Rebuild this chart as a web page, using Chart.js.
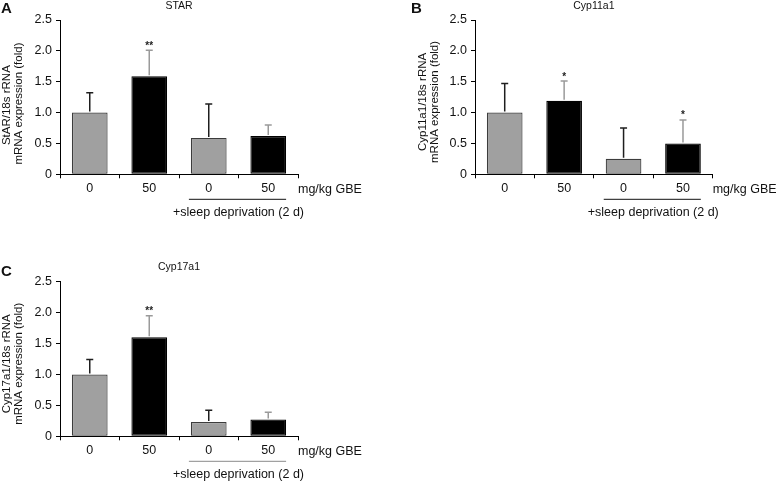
<!DOCTYPE html>
<html>
<head>
<meta charset="utf-8">
<script src="https://cdn.jsdelivr.net/npm/chart.js@4"></script>
<style>
  html, body { margin: 0; padding: 0; background: #fff; }
  body { width: 776px; height: 481px; position: relative; overflow: hidden; }
  canvas { position: absolute; }
</style>
</head>
<body>
<canvas id="cA" width="390" height="240" style="left:0;top:0;width:390px;height:240px"></canvas>
<canvas id="cB" width="386" height="240" style="left:390px;top:0;width:386px;height:240px"></canvas>
<canvas id="cC" width="390" height="226" style="left:0;top:255px;width:390px;height:226px"></canvas>
<script>
// ---- data ----
const categories = ['0', '50', '0', '50'];
const yTicks = [0, 0.5, 1.0, 1.5, 2.0, 2.5];

const starMean = [1.00, 1.59, 0.59, 0.62];
const starSD   = [0.32, 0.42, 0.55, 0.18];
const starSig  = ['', '**', '', ''];

const cyp11Mean = [1.00, 1.19, 0.25, 0.50];
const cyp11SD   = [0.47, 0.32, 0.50, 0.38];
const cyp11Sig  = ['', '*', '', '*'];

const cyp17Mean = [1.00, 1.60, 0.23, 0.27];
const cyp17SD   = [0.24, 0.35, 0.19, 0.12];
const cyp17Sig  = ['', '**', '', ''];

const doseLabel = 'mg/kg GBE';
const sdLabel = '+sleep deprivation (2 d)';

// ---- styles ----
const FONT = 'Liberation Sans, Arial, Helvetica, sans-serif';
const barFill = ['#a0a0a0', '#000000', '#a0a0a0', '#000000'];
const barBorder = ['#3c3c3c', '#000000', '#3c3c3c', '#000000'];
const errColor = ['#1e1e1e', '#9a9a9a', '#1e1e1e', '#9a9a9a'];

const annotPlugin = {
  id: 'annot',
  afterDatasetsDraw(chart, args, o) {
    const ctx = chart.ctx;
    const y = chart.scales.y;
    const bars = chart.getDatasetMeta(0).data;
    ctx.save();
    // error bars (upper half)
    o.sd.forEach((sd, i) => {
      const b = bars[i];
      const top = y.getPixelForValue(o.mean[i] + sd);
      const base = y.getPixelForValue(o.mean[i]);
      ctx.strokeStyle = errColor[i];
      ctx.lineWidth = 1.5;
      ctx.beginPath();
      ctx.moveTo(b.x, base - 1);
      ctx.lineTo(b.x, top);
      ctx.moveTo(b.x - 3.5, top);
      ctx.lineTo(b.x + 3.5, top);
      ctx.stroke();
      if (o.sig[i]) {
        ctx.fillStyle = '#222';
        ctx.font = 'bold 10px ' + FONT;
        ctx.textAlign = 'center';
        ctx.textBaseline = 'alphabetic';
        ctx.fillText(o.sig[i], b.x, top - 1.5);
      }
    });
    ctx.restore();
  },
  afterDraw(chart, args, o) {
    const ctx = chart.ctx;
    const area = chart.chartArea;
    const bars = chart.getDatasetMeta(0).data;
    ctx.save();
    ctx.fillStyle = '#111';
    // panel letter
    ctx.font = 'bold 15px ' + FONT;
    ctx.textAlign = 'left';
    ctx.textBaseline = 'middle';
    ctx.fillText(o.letter, o.letterX, o.letterY);
    // title
    ctx.font = '10.5px ' + FONT;
    ctx.textAlign = 'center';
    ctx.fillText(o.title, (area.left + area.right) / 2, area.top - o.titleGap);
    // dose unit label
    ctx.font = '12.5px ' + FONT;
    ctx.textAlign = 'left';
    ctx.fillText(doseLabel, area.right, area.bottom + 15);
    // underline
    const b2 = bars[2], b3 = bars[3];
    ctx.strokeStyle = o.lineColor;
    ctx.lineWidth = 1;
    ctx.beginPath();
    ctx.moveTo(b2.x - b2.width / 2 - 2, area.bottom + 25);
    ctx.lineTo(b3.x + b3.width / 2, area.bottom + 25);
    ctx.stroke();
    ctx.textAlign = 'center';
    ctx.fillText(sdLabel, (b2.x + b3.x) / 2, area.bottom + 38);
    ctx.restore();
  }
};

function makeChart(id, cfg) {
  const H = document.getElementById(id).height;
  return new Chart(document.getElementById(id), {
    type: 'bar',
    data: {
      labels: categories,
      datasets: [{
        data: cfg.mean,
        backgroundColor: barFill,
        borderColor: barBorder,
        borderWidth: 1.2,
        borderSkipped: false,
        barPercentage: 0.6,
        categoryPercentage: 1.0
      }]
    },
    options: {
      responsive: false,
      animation: false,
      devicePixelRatio: 1,
      layout: { padding: { top: cfg.top, right: cfg.right, left: 0, bottom: 0 } },
      plugins: {
        legend: { display: false },
        tooltip: { enabled: false },
        annot: {
          mean: cfg.mean, sd: cfg.sd, sig: cfg.sig,
          letter: cfg.letter, letterX: cfg.letterX, letterY: cfg.letterY,
          title: cfg.title, titleGap: cfg.titleGap, lineColor: cfg.lineColor
        }
      },
      scales: {
        x: {
          offset: true,
          grid: { display: true, offset: true, drawOnChartArea: false, drawTicks: true, tickLength: 4, color: '#000' },
          border: { display: true, color: '#000', width: 1 },
          ticks: { color: '#111', font: { family: FONT, size: 12.5 }, padding: 3, maxRotation: 0 },
          afterFit: s => { s.height = H - cfg.bottom; }
        },
        y: {
          min: 0, max: 2.5,
          afterBuildTicks: s => { s.ticks = yTicks.map(v => ({ value: v })); },
          grid: { display: true, drawOnChartArea: false, drawTicks: true, tickLength: 4, color: '#000' },
          border: { display: true, color: '#000', width: 1 },
          ticks: {
            color: '#111', font: { family: FONT, size: 12.5 }, padding: 4,
            callback: v => v === 0 ? '0' : Number(v).toFixed(1)
          },
          title: {
            display: true,
            text: cfg.yTitle,
            color: '#111',
            font: { family: FONT, size: 11.5, lineHeight: 1.05 },
            padding: { top: cfg.titlePad, bottom: 0 }
          },
          afterFit: s => { s.width = cfg.left; }
        }
      }
    },
    plugins: [annotPlugin]
  });
}

makeChart('cA', {
  mean: starMean, sd: starSD, sig: starSig,
  letter: 'A', letterX: 1, letterY: 9, title: 'STAR', titleGap: 14,
  yTitle: ['StAR/18s rRNA     ', 'mRNA expression (fold)    '],
  top: 20, bottom: 174.3, left: 60, right: 92, titlePad: 1, lineColor: '#111'
});
makeChart('cB', {
  mean: cyp11Mean, sd: cyp11SD, sig: cyp11Sig,
  letter: 'B', letterX: 21, letterY: 9, title: 'Cyp11a1', titleGap: 14,
  yTitle: ['Cyp11a1/18s rRNA   ', 'mRNA expression (fold)   '],
  top: 20, bottom: 174.3, left: 85, right: 63.3, titlePad: 27, lineColor: '#111'
});
makeChart('cC', {
  mean: cyp17Mean, sd: cyp17SD, sig: cyp17Sig,
  letter: 'C', letterX: 1, letterY: 17, title: 'Cyp17a1', titleGap: 15,
  yTitle: ['Cyp17a1/18s rRNA   ', 'mRNA expression (fold)   '],
  top: 26.7, bottom: 181.3, left: 60, right: 92, titlePad: 1, lineColor: '#8a8a8a'
});
</script>
</body>
</html>
